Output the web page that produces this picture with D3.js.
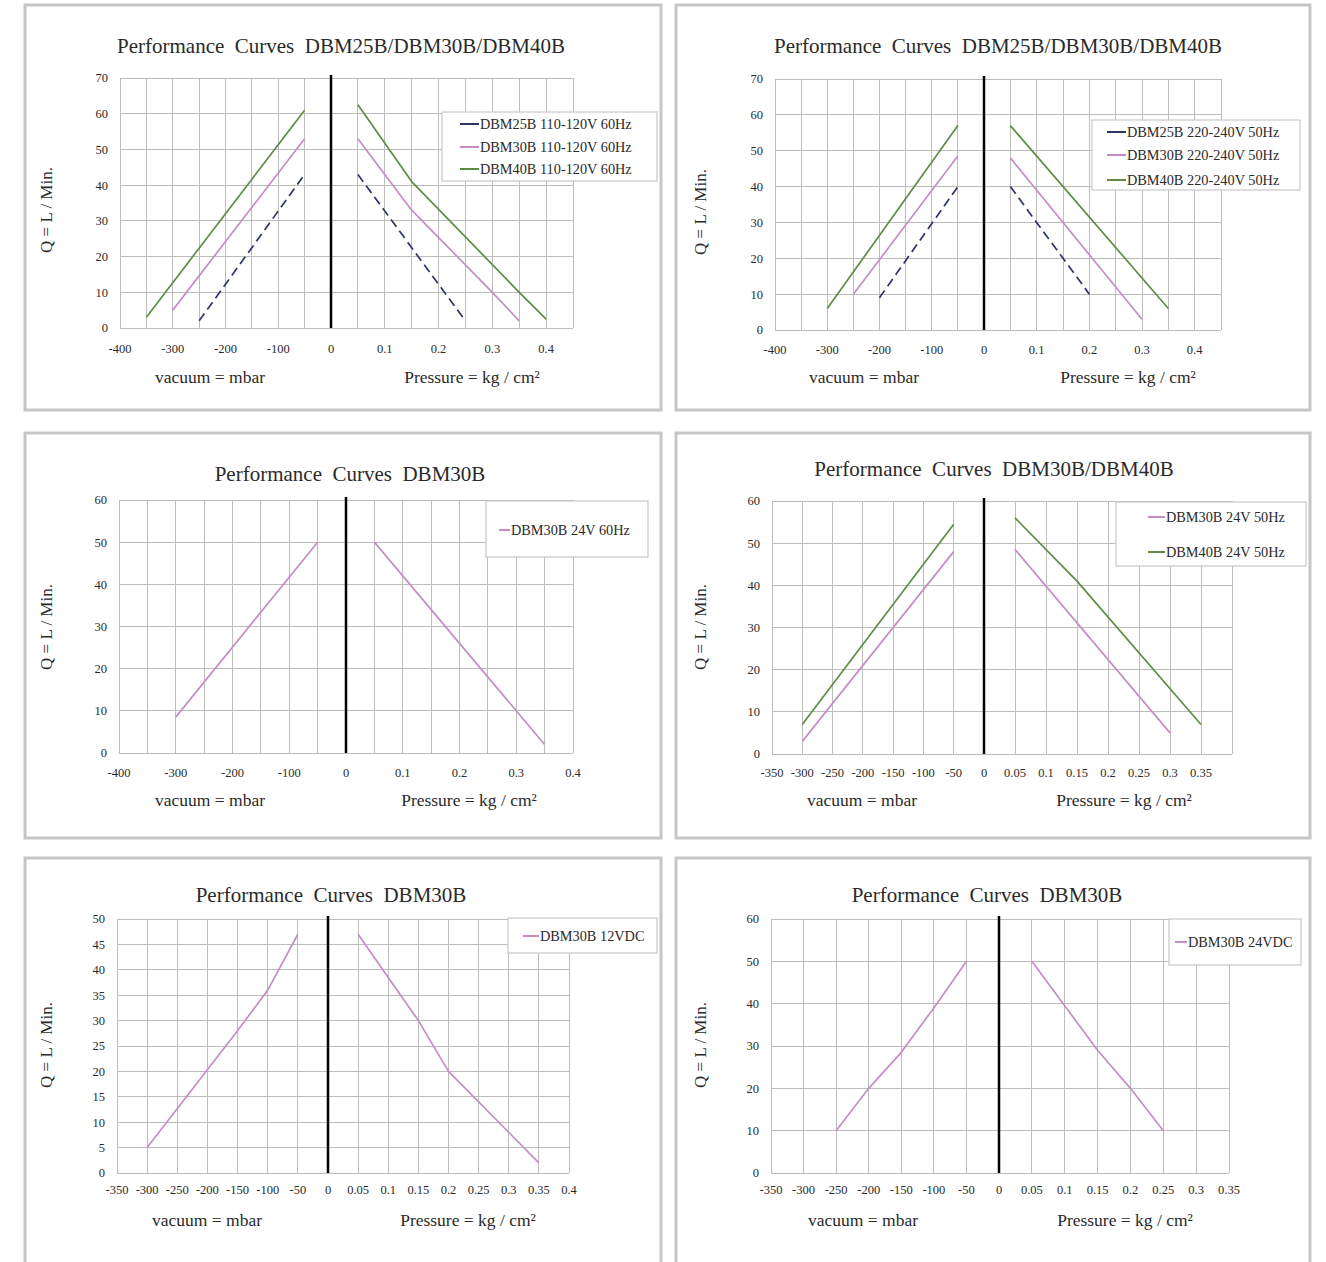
<!DOCTYPE html>
<html><head><meta charset="utf-8">
<script src="https://cdn.jsdelivr.net/npm/d3@7"></script>
<style>
body{margin:0;background:#fff}
svg{display:block}
text{font-family:"Liberation Serif","Times New Roman",serif;fill:#2a2a2a}
</style>
</head><body>
<svg id="c" width="1326" height="1262"></svg>
<script>
// ---------------- DATA ----------------
const panelTitles = [
  "Performance  Curves  DBM25B/DBM30B/DBM40B",
  "Performance  Curves  DBM25B/DBM30B/DBM40B",
  "Performance  Curves  DBM30B",
  "Performance  Curves  DBM30B/DBM40B",
  "Performance  Curves  DBM30B",
  "Performance  Curves  DBM30B"
];
const yMaxes = [70, 70, 60, 60, 50, 60];
const yTickSteps = [10, 10, 10, 10, 5, 10];
const vacuumMins = [-400, -400, -400, -350, -350, -350];
const pressureMaxes = [0.45, 0.45, 0.4, 0.4, 0.4, 0.35];
const vacuumTickLabels = [
  [-400, -300, -200, -100],
  [-400, -300, -200, -100],
  [-400, -300, -200, -100],
  [-350, -300, -250, -200, -150, -100, -50],
  [-350, -300, -250, -200, -150, -100, -50],
  [-350, -300, -250, -200, -150, -100, -50]
];
const pressureTickLabels = [
  [0.1, 0.2, 0.3, 0.4],
  [0.1, 0.2, 0.3, 0.4],
  [0.1, 0.2, 0.3, 0.4],
  [0.05, 0.1, 0.15, 0.2, 0.25, 0.3, 0.35],
  [0.05, 0.1, 0.15, 0.2, 0.25, 0.3, 0.35, 0.4],
  [0.05, 0.1, 0.15, 0.2, 0.25, 0.3, 0.35]
];
const vacuumTitle = "vacuum = mbar";
const pressureTitle = "Pressure = kg / cm\u00B2";
const yTitle = "Q = L / Min.";

// Panel 1: 110-120V 60Hz
const dbm25_60Hz_vacuum   = [[-250, 2], [-50, 43]];
const dbm25_60Hz_pressure = [[0.05, 43], [0.25, 2]];
const dbm30_60Hz_vacuum   = [[-300, 5], [-50, 53]];
const dbm30_60Hz_pressure = [[0.05, 53], [0.15, 33], [0.3, 10], [0.35, 2]];
const dbm40_60Hz_vacuum   = [[-350, 3], [-50, 61]];
const dbm40_60Hz_pressure = [[0.05, 62.5], [0.15, 41], [0.35, 10], [0.4, 2.5]];
// Panel 2: 220-240V 50Hz
const dbm25_50Hz_vacuum   = [[-200, 9], [-50, 40]];
const dbm25_50Hz_pressure = [[0.05, 40], [0.2, 10]];
const dbm30_50Hz_vacuum   = [[-250, 10], [-50, 48.5]];
const dbm30_50Hz_pressure = [[0.05, 48], [0.3, 3]];
const dbm40_50Hz_vacuum   = [[-300, 6], [-50, 57]];
const dbm40_50Hz_pressure = [[0.05, 57], [0.35, 6]];
// Panel 3: DBM30B 24V 60Hz
const dbm30_24V60_vacuum   = [[-300, 8.5], [-50, 50]];
const dbm30_24V60_pressure = [[0.05, 50], [0.35, 2]];
// Panel 4: 24V 50Hz
const dbm30_24V50_vacuum   = [[-300, 3], [-50, 48]];
const dbm30_24V50_pressure = [[0.05, 48.5], [0.3, 5]];
const dbm40_24V50_vacuum   = [[-300, 7], [-50, 54.5]];
const dbm40_24V50_pressure = [[0.05, 56], [0.15, 41], [0.35, 7]];
// Panel 5: DBM30B 12VDC
const dbm30_12VDC_vacuum   = [[-300, 5], [-150, 28], [-100, 36], [-50, 47]];
const dbm30_12VDC_pressure = [[0.05, 47], [0.1, 38.5], [0.15, 30], [0.2, 20], [0.35, 2]];
// Panel 6: DBM30B 24VDC
const dbm30_24VDC_vacuum   = [[-250, 10], [-200, 20], [-150, 28.5], [-100, 39], [-50, 50]];
const dbm30_24VDC_pressure = [[0.05, 50], [0.1, 39.5], [0.15, 29], [0.2, 20], [0.25, 10]];

const seriesNames = [
  ["DBM25B 110-120V 60Hz", "DBM30B 110-120V 60Hz", "DBM40B 110-120V 60Hz"],
  ["DBM25B 220-240V 50Hz", "DBM30B 220-240V 50Hz", "DBM40B 220-240V 50Hz"],
  ["DBM30B 24V 60Hz"],
  ["DBM30B 24V 50Hz", "DBM40B 24V 50Hz"],
  ["DBM30B 12VDC"],
  ["DBM30B 24VDC"]
];
const seriesVacuum = [
  [dbm25_60Hz_vacuum, dbm30_60Hz_vacuum, dbm40_60Hz_vacuum],
  [dbm25_50Hz_vacuum, dbm30_50Hz_vacuum, dbm40_50Hz_vacuum],
  [dbm30_24V60_vacuum],
  [dbm30_24V50_vacuum, dbm40_24V50_vacuum],
  [dbm30_12VDC_vacuum],
  [dbm30_24VDC_vacuum]
];
const seriesPressure = [
  [dbm25_60Hz_pressure, dbm30_60Hz_pressure, dbm40_60Hz_pressure],
  [dbm25_50Hz_pressure, dbm30_50Hz_pressure, dbm40_50Hz_pressure],
  [dbm30_24V60_pressure],
  [dbm30_24V50_pressure, dbm40_24V50_pressure],
  [dbm30_12VDC_pressure],
  [dbm30_24VDC_pressure]
];
const seriesModels = [
  ["DBM25B", "DBM30B", "DBM40B"],
  ["DBM25B", "DBM30B", "DBM40B"],
  ["DBM30B"],
  ["DBM30B", "DBM40B"],
  ["DBM30B"],
  ["DBM30B"]
];

// ---------------- STYLE / LAYOUT ----------------
const modelStyle = {
  DBM25B: {color: "#2d3566", dash: "9,5"},
  DBM30B: {color: "#c78cc8", dash: null},
  DBM40B: {color: "#5e8c45", dash: null}
};
const layout = [
  {box:[25,5,636,405], left:120, center:331, right:573, top:78, bottom:328,
   title:[341,46], tickY:349, axisY:377, vacX:210, presX:472, yTitle:[46,210],
   legend:{x:442, y:112, w:215, h:69, rows:[124,147,169], lx1:460, lx2:479}},
  {box:[676,5,634,405], left:775, center:984, right:1221, top:79, bottom:330,
   title:[998,46], tickY:350, axisY:377, vacX:864, presX:1128, yTitle:[700,212],
   legend:{x:1092, y:120, w:208, h:70, rows:[132,155,180], lx1:1107, lx2:1126}},
  {box:[25,433,636,405], left:119, center:346, right:573, top:500, bottom:753,
   title:[350,474], tickY:773, axisY:800, vacX:210, presX:469, yTitle:[46,627],
   legend:{x:486, y:501, w:162, h:56, rows:[530], lx1:499, lx2:510}},
  {box:[676,433,634,405], left:772, center:984, right:1232, top:501, bottom:754,
   title:[994,469], tickY:773, axisY:800, vacX:862, presX:1124, yTitle:[700,627],
   legend:{x:1116, y:502, w:190, h:64, rows:[517,552], lx1:1148, lx2:1165}},
  {box:[25,858,636,420], left:117, center:328, right:569, top:919, bottom:1173,
   title:[331,895], tickY:1190, axisY:1220, vacX:207, presX:468, yTitle:[46,1045],
   legend:{x:508, y:918, w:149, h:35, rows:[936], lx1:523, lx2:539}},
  {box:[676,858,634,420], left:771, center:999, right:1229, top:919, bottom:1173,
   title:[987,895], tickY:1190, axisY:1220, vacX:863, presX:1125, yTitle:[700,1045],
   legend:{x:1169, y:919, w:132, h:46, rows:[942], lx1:1175, lx2:1187}}
];

// ---------------- DRAW ----------------
const svg = d3.select("#c");
svg.append("rect").attr("width",1326).attr("height",1262).attr("fill","#fff");
const fmtP = p => String(+p.toFixed(2));

layout.forEach((L, i) => {
  const g = svg.append("g");
  g.append("rect").attr("x",L.box[0]).attr("y",L.box[1]).attr("width",L.box[2]).attr("height",L.box[3])
    .attr("fill","#fff").attr("stroke","#c6c6c6").attr("stroke-width",3);

  const vac = d3.scaleLinear().domain([vacuumMins[i], 0]).range([L.left, L.center]);
  const pres = d3.scaleLinear().domain([0, pressureMaxes[i]]).range([L.center, L.right]);
  const y = d3.scaleLinear().domain([0, yMaxes[i]]).range([L.bottom, L.top]);

  const grid = g.append("g").attr("stroke","#bdbdbd").attr("stroke-width",1).attr("shape-rendering","crispEdges");
  const yTicks = d3.range(0, yMaxes[i] + 1e-9, yTickSteps[i]);
  yTicks.forEach(t => grid.append("line").attr("x1",L.left).attr("x2",L.right).attr("y1",y(t)).attr("y2",y(t)));
  d3.range(vacuumMins[i], 0, 50).forEach(v => grid.append("line").attr("x1",vac(v)).attr("x2",vac(v)).attr("y1",L.top).attr("y2",L.bottom));
  d3.range(1, Math.round(pressureMaxes[i]/0.05) + 1).map(k => k*0.05).forEach(p =>
    grid.append("line").attr("x1",pres(p)).attr("x2",pres(p)).attr("y1",L.top).attr("y2",L.bottom));

  g.append("text").attr("x",L.title[0]).attr("y",L.title[1]).attr("dy","0.35em")
    .attr("text-anchor","middle").attr("font-size",21).style("white-space","pre").text(panelTitles[i]);

  yTicks.forEach(t => g.append("text").attr("x",L.left-12).attr("y",y(t)).attr("dy","0.35em")
    .attr("text-anchor","end").attr("font-size",12.5).text(t));
  const xLabels = vacuumTickLabels[i].map(v => ({x: vac(v), t: String(v)}))
    .concat([{x: L.center, t: "0"}])
    .concat(pressureTickLabels[i].map(p => ({x: pres(p), t: fmtP(p)})));
  xLabels.forEach(d => g.append("text").attr("x",d.x).attr("y",L.tickY).attr("dy","0.35em")
    .attr("text-anchor","middle").attr("font-size",12.5).text(d.t));

  g.append("text").attr("x",L.vacX).attr("y",L.axisY).attr("dy","0.35em").attr("text-anchor","middle")
    .attr("font-size",17.5).text(vacuumTitle);
  g.append("text").attr("x",L.presX).attr("y",L.axisY).attr("dy","0.35em").attr("text-anchor","middle")
    .attr("font-size",17.5).text(pressureTitle);
  g.append("text").attr("transform",`translate(${L.yTitle[0]},${L.yTitle[1]}) rotate(-90)`)
    .attr("dy","0.35em").attr("text-anchor","middle").attr("font-size",17).text(yTitle);

  const lineV = d3.line().x(d => vac(d[0])).y(d => y(d[1]));
  const lineP = d3.line().x(d => pres(d[0])).y(d => y(d[1]));
  seriesModels[i].forEach((m, k) => {
    const st = modelStyle[m];
    [[lineV, seriesVacuum[i][k]], [lineP, seriesPressure[i][k]]].forEach(([gen, data]) => {
      g.append("path").attr("d", gen(data)).attr("fill","none").attr("stroke",st.color)
        .attr("stroke-width",1.7).attr("stroke-dasharray",st.dash).attr("stroke-linejoin","round");
    });
  });

  g.append("line").attr("x1",L.center).attr("x2",L.center).attr("y1",L.top-3).attr("y2",L.bottom)
    .attr("stroke","#000").attr("stroke-width",2.5);

  const lg = L.legend;
  g.append("rect").attr("x",lg.x).attr("y",lg.y).attr("width",lg.w).attr("height",lg.h)
    .attr("fill","#fff").attr("stroke","#c8c8c8").attr("stroke-width",1.2);
  seriesNames[i].forEach((name, k) => {
    const st = modelStyle[seriesModels[i][k]];
    const ry = lg.rows[k];
    g.append("line").attr("x1",lg.lx1).attr("x2",lg.lx2).attr("y1",ry).attr("y2",ry)
      .attr("stroke", st.color).attr("stroke-width",2);
    g.append("text").attr("x",lg.lx2+1).attr("y",ry).attr("dy","0.35em").attr("font-size",14.3)
      .attr("fill","#444").text(name);
  });
});
</script>
</body></html>
